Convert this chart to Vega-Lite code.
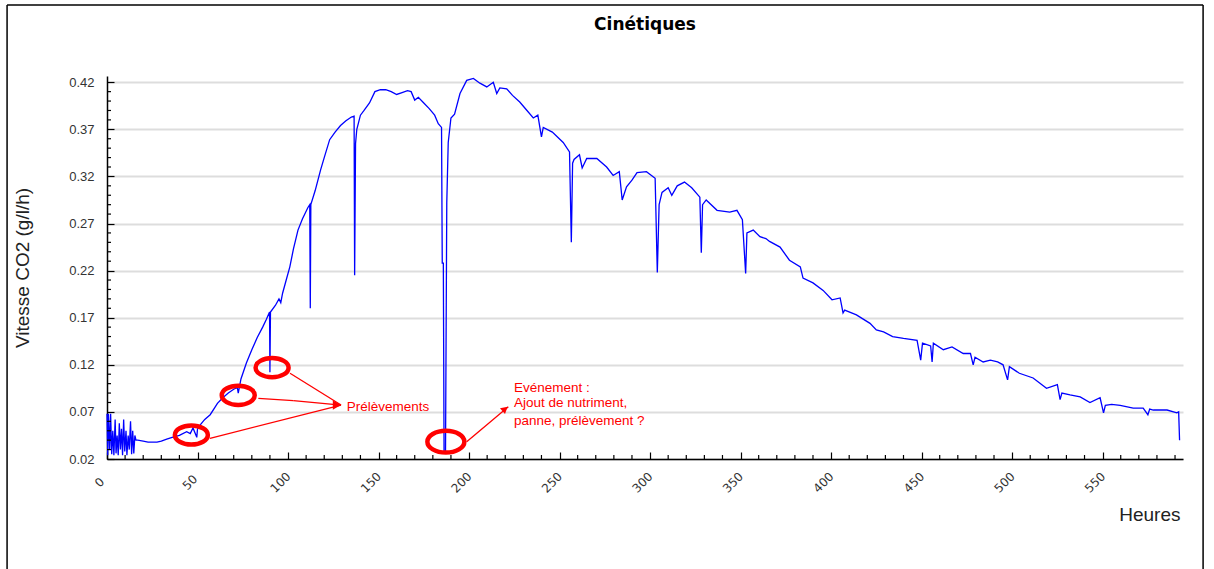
{
  "$schema": "https://vega.github.io/schema/vega-lite/v6.json",
  "width": 1076,
  "height": 383,
  "autosize": {"type": "none"},
  "padding": {"left": 107, "top": 76, "right": 31, "bottom": 110},
  "background": "white",
  "config": {"view": {"stroke": null}, "font": "Liberation Sans"},
  "title": {"text": "Cinétiques", "font": "DejaVu Sans", "fontWeight": "bold", "fontSize": 17, "offset": -43, "baseline": "alphabetic", "anchor": "middle", "frame": "group", "color": "black"},
  "datasets": {
    "series": [
      {"h":0,"v":0.068},{"h":0.4,"v":0.024},{"h":0.8,"v":0.068},{"h":1.5,"v":0.03},{"h":2,"v":0.068},{"h":2.6,"v":0.025},{"h":3.2,"v":0.05},{"h":3.8,"v":0.024},{"h":4.5,"v":0.062},{"h":5,"v":0.026},{"h":5.6,"v":0.045},{"h":6.2,"v":0.024},{"h":6.8,"v":0.058},{"h":7.4,"v":0.03},{"h":8,"v":0.052},{"h":8.6,"v":0.024},{"h":9.2,"v":0.062},{"h":9.8,"v":0.028},{"h":10.5,"v":0.05},{"h":11,"v":0.024},{"h":11.7,"v":0.045},{"h":12.3,"v":0.03},{"h":13,"v":0.06},{"h":13.6,"v":0.025},{"h":14.2,"v":0.05},{"h":14.8,"v":0.026},{"h":15.4,"v":0.045},{"h":16,"v":0.04},
      {"h":17,"v":0.040},{"h":20,"v":0.039},{"h":22.7,"v":0.038},{"h":25,"v":0.038},{"h":27.6,"v":0.038},{"h":30,"v":0.039},{"h":33,"v":0.041},{"h":36,"v":0.043},{"h":40,"v":0.045},{"h":44,"v":0.049},{"h":46,"v":0.047},{"h":47.5,"v":0.053},{"h":49.6,"v":0.043},{"h":50,"v":0.052},{"h":51.4,"v":0.056},{"h":54,"v":0.062},{"h":57,"v":0.067},{"h":59.7,"v":0.075},{"h":61,"v":0.079},{"h":64,"v":0.085},{"h":67,"v":0.09},{"h":70,"v":0.094},{"h":72,"v":0.096},{"h":72.5,"v":0.09},{"h":74,"v":0.105},{"h":77,"v":0.122},{"h":80,"v":0.136},{"h":83,"v":0.149},{"h":86,"v":0.16},{"h":88,"v":0.168},{"h":89.8,"v":0.176},{"h":90,"v":0.112},{"h":90.3,"v":0.176},{"h":93,"v":0.183},{"h":95,"v":0.19},{"h":96,"v":0.186},{"h":97,"v":0.196},{"h":99,"v":0.21},{"h":101,"v":0.224},{"h":103,"v":0.243},{"h":105.5,"v":0.263},{"h":108,"v":0.275},{"h":111,"v":0.287},{"h":112,"v":0.29},{"h":112.3,"v":0.18},{"h":112.6,"v":0.29},{"h":115,"v":0.305},{"h":118,"v":0.327},{"h":120,"v":0.34},{"h":123,"v":0.359},{"h":126,"v":0.367},{"h":129,"v":0.374},{"h":132,"v":0.379},{"h":135,"v":0.383},{"h":136.5,"v":0.384},{"h":136.8,"v":0.215},{"h":137.3,"v":0.355},{"h":138,"v":0.37},{"h":140,"v":0.385},{"h":142,"v":0.39},{"h":145,"v":0.398},{"h":148,"v":0.41},{"h":151,"v":0.412},{"h":154,"v":0.412},{"h":157,"v":0.41},{"h":160,"v":0.407},{"h":163,"v":0.409},{"h":166,"v":0.411},{"h":168,"v":0.41},{"h":170,"v":0.401},{"h":172,"v":0.404},{"h":175,"v":0.398},{"h":178,"v":0.392},{"h":181,"v":0.385},{"h":183,"v":0.376},{"h":184.8,"v":0.372},{"h":185.2,"v":0.228},{"h":185.8,"v":0.228},{"h":186.2,"v":0.027},{"h":187,"v":0.027},{"h":187.4,"v":0.18},{"h":187.7,"v":0.292},{"h":188.5,"v":0.356},{"h":190,"v":0.382},{"h":192,"v":0.386},{"h":195,"v":0.408},{"h":198.7,"v":0.422},{"h":202.4,"v":0.424},{"h":206,"v":0.419},{"h":209.8,"v":0.415},{"h":213.4,"v":0.42},{"h":215.3,"v":0.408},{"h":217,"v":0.414},{"h":220.8,"v":0.413},{"h":224,"v":0.406},{"h":228,"v":0.399},{"h":232,"v":0.39},{"h":235.5,"v":0.382},{"h":238,"v":0.385},{"h":240,"v":0.362},{"h":241,"v":0.372},{"h":246,"v":0.367},{"h":252,"v":0.356},{"h":255.5,"v":0.346},{"h":256.5,"v":0.25},{"h":257.2,"v":0.334},{"h":258,"v":0.338},{"h":261,"v":0.343},{"h":262.5,"v":0.329},{"h":265,"v":0.339},{"h":270.6,"v":0.339},{"h":276,"v":0.33},{"h":279.6,"v":0.321},{"h":283,"v":0.325},{"h":284.6,"v":0.295},{"h":287,"v":0.309},{"h":290,"v":0.316},{"h":292.8,"v":0.324},{"h":298,"v":0.325},{"h":302.8,"v":0.318},{"h":304,"v":0.218},{"h":305,"v":0.29},{"h":306.6,"v":0.303},{"h":310,"v":0.308},{"h":312,"v":0.3},{"h":315,"v":0.31},{"h":319,"v":0.314},{"h":323,"v":0.308},{"h":327.5,"v":0.298},{"h":328.3,"v":0.239},{"h":329,"v":0.29},{"h":331,"v":0.295},{"h":337,"v":0.284},{"h":344,"v":0.282},{"h":348,"v":0.284},{"h":351,"v":0.274},{"h":352.8,"v":0.217},{"h":353.5,"v":0.26},{"h":357,"v":0.263},{"h":360.7,"v":0.256},{"h":364,"v":0.254},{"h":366,"v":0.251},{"h":371.8,"v":0.245},{"h":377,"v":0.231},{"h":383,"v":0.224},{"h":384.5,"v":0.212},{"h":390,"v":0.207},{"h":395.6,"v":0.199},{"h":400.5,"v":0.189},{"h":405,"v":0.191},{"h":406.6,"v":0.175},{"h":407.5,"v":0.178},{"h":414,"v":0.173},{"h":421.5,"v":0.164},{"h":425,"v":0.157},{"h":429,"v":0.155},{"h":434,"v":0.15},{"h":440,"v":0.148},{"h":447.5,"v":0.146},{"h":449.5,"v":0.125},{"h":450.5,"v":0.143},{"h":455,"v":0.14},{"h":455.8,"v":0.123},{"h":456.5,"v":0.143},{"h":462,"v":0.136},{"h":466.8,"v":0.139},{"h":473,"v":0.132},{"h":477,"v":0.132},{"h":478.5,"v":0.12},{"h":479.5,"v":0.128},{"h":484,"v":0.123},{"h":488,"v":0.125},{"h":492,"v":0.123},{"h":495,"v":0.12},{"h":497.5,"v":0.104},{"h":498.5,"v":0.118},{"h":504,"v":0.111},{"h":511.6,"v":0.106},{"h":519,"v":0.095},{"h":525,"v":0.099},{"h":526.5,"v":0.083},{"h":527.5,"v":0.09},{"h":532,"v":0.088},{"h":537.6,"v":0.086},{"h":543,"v":0.08},{"h":548.6,"v":0.085},{"h":550.5,"v":0.069},{"h":551.5,"v":0.077},{"h":555,"v":0.078},{"h":559.7,"v":0.077},{"h":566.9,"v":0.074},{"h":572.4,"v":0.074},{"h":575,"v":0.067},{"h":576,"v":0.073},{"h":578,"v":0.072},{"h":585.6,"v":0.072},{"h":591,"v":0.069},{"h":592,"v":0.07},{"h":592.5,"v":0.04}
    ],
    "circles": [
      {"h":46.6,"v":0.0455,"grp":"p"},
      {"h":72.5,"v":0.0876,"grp":"p"},
      {"h":91.2,"v":0.117,"grp":"p"},
      {"h":187.2,"v":0.0384,"grp":"e"}
    ],
    "segments": [
      {"h":56.9,"v":0.042,"h2":129.3,"v2":0.0773,"kind":"arrow"},
      {"h":83.6,"v":0.0844,"h2":102.9,"v2":0.0819,"kind":"arrow"},
      {"h":102.9,"v":0.0819,"h2":129.3,"v2":0.0773,"kind":"arrow"},
      {"h":101.1,"v":0.111,"h2":129.3,"v2":0.0773,"kind":"arrow"},
      {"h":198.7,"v":0.0384,"h2":221.7,"v2":0.0755,"kind":"arrow"},
      {"h":-55.2,"v":0.502,"h2":-55.2,"v2":-0.2,"kind":"frame"},
      {"h":-55.2,"v":0.502,"h2":605.5,"v2":0.502,"kind":"frame"},
      {"h":605.5,"v":0.502,"h2":605.5,"v2":-0.2,"kind":"frame"}
    ],
    "heads": [
      {"h":127,"v":0.0773,"grp":"p"},
      {"h":219.9,"v":0.0731,"grp":"e"}
    ],
    "minorx": [
      {"h":10,"v":0.02},{"h":20,"v":0.02},{"h":30,"v":0.02},{"h":40,"v":0.02},
      {"h":60,"v":0.02},{"h":70,"v":0.02},{"h":80,"v":0.02},{"h":90,"v":0.02},
      {"h":110,"v":0.02},{"h":120,"v":0.02},{"h":130,"v":0.02},{"h":140,"v":0.02},
      {"h":160,"v":0.02},{"h":170,"v":0.02},{"h":180,"v":0.02},{"h":190,"v":0.02},
      {"h":210,"v":0.02},{"h":220,"v":0.02},{"h":230,"v":0.02},{"h":240,"v":0.02},
      {"h":260,"v":0.02},{"h":270,"v":0.02},{"h":280,"v":0.02},{"h":290,"v":0.02},
      {"h":310,"v":0.02},{"h":320,"v":0.02},{"h":330,"v":0.02},{"h":340,"v":0.02},
      {"h":360,"v":0.02},{"h":370,"v":0.02},{"h":380,"v":0.02},{"h":390,"v":0.02},
      {"h":410,"v":0.02},{"h":420,"v":0.02},{"h":430,"v":0.02},{"h":440,"v":0.02},
      {"h":460,"v":0.02},{"h":470,"v":0.02},{"h":480,"v":0.02},{"h":490,"v":0.02},
      {"h":510,"v":0.02},{"h":520,"v":0.02},{"h":530,"v":0.02},{"h":540,"v":0.02},
      {"h":560,"v":0.02},{"h":570,"v":0.02},{"h":580,"v":0.02},{"h":590,"v":0.02}
    ],
    "minory": [
      {"h":0,"v":0.03},{"h":0,"v":0.04},{"h":0,"v":0.05},{"h":0,"v":0.06},
      {"h":0,"v":0.08},{"h":0,"v":0.09},{"h":0,"v":0.10},{"h":0,"v":0.11},
      {"h":0,"v":0.13},{"h":0,"v":0.14},{"h":0,"v":0.15},{"h":0,"v":0.16},
      {"h":0,"v":0.18},{"h":0,"v":0.19},{"h":0,"v":0.20},{"h":0,"v":0.21},
      {"h":0,"v":0.23},{"h":0,"v":0.24},{"h":0,"v":0.25},{"h":0,"v":0.26},
      {"h":0,"v":0.28},{"h":0,"v":0.29},{"h":0,"v":0.30},{"h":0,"v":0.31},
      {"h":0,"v":0.33},{"h":0,"v":0.34},{"h":0,"v":0.35},{"h":0,"v":0.36},
      {"h":0,"v":0.38},{"h":0,"v":0.39},{"h":0,"v":0.40},{"h":0,"v":0.41}
    ],
    "notes": [
      {"h":132.4,"v":0.0755,"label":"Prélèvements"},
      {"h":224.8,"v":0.0951,"label":"Evénement :"},
      {"h":224.8,"v":0.0791,"label":"Ajout de nutriment,"},
      {"h":224.8,"v":0.0603,"label":"panne, prélèvement ?"}
    ]
  },
  "layer": [
    {
      "data": {"name": "series"},
      "mark": {"type": "line", "color": "#0000ff", "strokeWidth": 1.3},
      "encoding": {
        "x": {
          "field": "h", "type": "quantitative",
          "scale": {"domain": [0, 594.4], "nice": false, "zero": false},
          "axis": {
            "title": "Heures",
            "values": [0,50,100,150,200,250,300,350,400,450,500,550],
            "format": "d",
            "tickSize": -7,
            "tickColor": "black", "tickWidth": 1.2,
            "domainColor": "black", "domainWidth": 1.5,
            "grid": false,
            "labelAngle": -45, "labelAlign": "center", "labelBaseline": "middle",
            "labelPadding": 30, "labelOffset": -8,
            "labelFontSize": 12, "labelColor": "#333333", "labelFont": "DejaVu Sans",
            "labelFlush": false, "labelOverlap": false,
            "titleFontSize": 19, "titleFontWeight": "normal", "titleColor": "#222222", "titleFont": "Liberation Sans",
            "titleX": 1073, "titleY": 55, "titleAlign": "right", "titleBaseline": "middle", "titleAnchor": "end"
          }
        },
        "y": {
          "field": "v", "type": "quantitative",
          "scale": {"domain": [0.02, 0.4266], "nice": false, "zero": false},
          "axis": {
            "title": "Vitesse CO2 (g/l/h)",
            "values": [0.02,0.07,0.12,0.17,0.22,0.27,0.32,0.37,0.42],
            "format": ".2f",
            "tickSize": -7,
            "tickColor": "black", "tickWidth": 1.2,
            "domainColor": "black", "domainWidth": 1.5,
            "grid": true, "gridColor": "#dddddd", "gridWidth": 2,
            "labelPadding": 20, "labelFontSize": 13, "labelColor": "#333333", "labelFont": "Liberation Sans",
            "labelOverlap": false, "labelFlush": false,
            "titleFontSize": 19, "titleFontWeight": "normal", "titleColor": "#222222", "titleFont": "Liberation Sans",
            "titleX": -85, "titleY": 191.5, "titleAngle": -90, "titleAlign": "center", "titleBaseline": "middle"
          }
        }
      }
    },
    {
      "data": {"name": "minorx"},
      "mark": {"type": "tick", "orient": "vertical", "size": 4, "thickness": 1.2, "color": "black", "opacity": 1, "yOffset": -2},
      "encoding": {"x": {"field": "h", "type": "quantitative"}, "y": {"field": "v", "type": "quantitative"}}
    },
    {
      "data": {"name": "minory"},
      "mark": {"type": "tick", "orient": "horizontal", "size": 4, "thickness": 1.2, "color": "black", "opacity": 1, "xOffset": 2},
      "encoding": {"x": {"field": "h", "type": "quantitative"}, "y": {"field": "v", "type": "quantitative"}}
    },
    {
      "data": {"name": "circles"},
      "transform": [{"filter": "datum.grp === 'p'"}],
      "mark": {"type": "point", "shape": "M -1 0 A 1 0.58 0 1 0 1 0 A 1 0.58 0 1 0 -1 0 Z", "size": 1089, "filled": false, "stroke": "#ff0000", "strokeWidth": 4.5, "opacity": 1},
      "encoding": {"x": {"field": "h", "type": "quantitative"}, "y": {"field": "v", "type": "quantitative"}}
    },
    {
      "data": {"name": "circles"},
      "transform": [{"filter": "datum.grp === 'e'"}],
      "mark": {"type": "point", "shape": "M -1 0 A 1 0.59 0 1 0 1 0 A 1 0.59 0 1 0 -1 0 Z", "size": 1369, "filled": false, "stroke": "#ff0000", "strokeWidth": 4.5, "opacity": 1},
      "encoding": {"x": {"field": "h", "type": "quantitative"}, "y": {"field": "v", "type": "quantitative"}}
    },
    {
      "data": {"name": "segments"},
      "transform": [{"filter": "datum.kind === 'arrow'"}],
      "mark": {"type": "rule", "color": "#ff0000", "strokeWidth": 1.3},
      "encoding": {
        "x": {"field": "h", "type": "quantitative"},
        "y": {"field": "v", "type": "quantitative"},
        "x2": {"field": "h2"},
        "y2": {"field": "v2"}
      }
    },
    {
      "data": {"name": "segments"},
      "transform": [{"filter": "datum.kind === 'frame'"}],
      "mark": {"type": "rule", "color": "#000000", "strokeWidth": 1.5, "clip": false},
      "encoding": {
        "x": {"field": "h", "type": "quantitative"},
        "y": {"field": "v", "type": "quantitative"},
        "x2": {"field": "h2"},
        "y2": {"field": "v2"}
      }
    },
    {
      "data": {"name": "heads"},
      "transform": [{"filter": "datum.grp === 'p'"}],
      "mark": {"type": "point", "shape": "triangle-right", "size": 90, "filled": true, "color": "#ff0000", "opacity": 1},
      "encoding": {"x": {"field": "h", "type": "quantitative"}, "y": {"field": "v", "type": "quantitative"}}
    },
    {
      "data": {"name": "heads"},
      "transform": [{"filter": "datum.grp === 'e'"}],
      "mark": {"type": "point", "shape": "triangle-right", "size": 60, "filled": true, "color": "#ff0000", "opacity": 1, "angle": -40},
      "encoding": {"x": {"field": "h", "type": "quantitative"}, "y": {"field": "v", "type": "quantitative"}}
    },
    {
      "data": {"name": "notes"},
      "mark": {"type": "text", "align": "left", "baseline": "middle", "color": "#ff0000", "fontSize": 13.5, "font": "Liberation Sans"},
      "encoding": {
        "x": {"field": "h", "type": "quantitative"},
        "y": {"field": "v", "type": "quantitative"},
        "text": {"field": "label"}
      }
    }
  ]
}
